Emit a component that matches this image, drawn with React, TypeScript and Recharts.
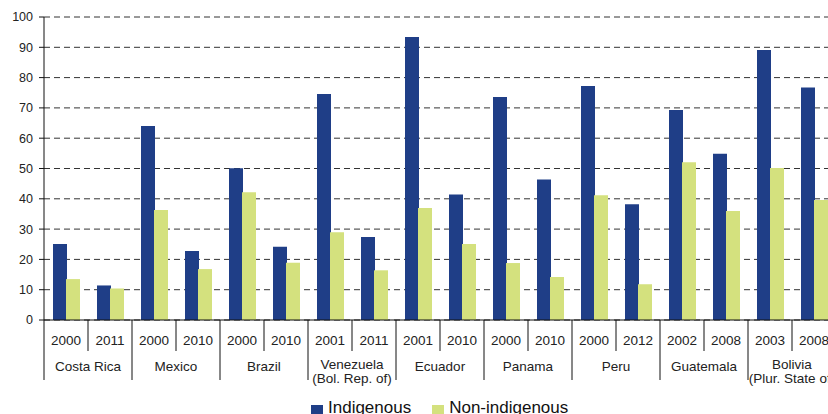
import { BarChart, Bar, XAxis, YAxis, CartesianGrid } from "recharts"

const countries = ["Costa Rica", "Mexico", "Brazil", "Venezuela", "Ecuador", "Panama", "Peru", "Guatemala", "Bolivia"]
const countrySubtitles = ["", "", "", "(Bol. Rep. of)", "", "", "", "", "(Plur. State of)"]
const years = [
  ["2000", "2011"],
  ["2000", "2010"],
  ["2000", "2010"],
  ["2001", "2011"],
  ["2001", "2010"],
  ["2000", "2010"],
  ["2000", "2012"],
  ["2002", "2008"],
  ["2003", "2008"],
]
const indigenous = [25.1, 11.4, 64, 22.8, 50.1, 24.2, 74.6, 27.4, 93.4, 41.4, 73.6, 46.4, 77.2, 38.2, 69.3, 54.9, 89.1, 76.7]
const nonIndigenous = [13.5, 10.4, 36.3, 16.8, 42.2, 18.9, 29, 16.4, 37, 25.1, 18.8, 14.2, 41.2, 11.8, 52.1, 36, 50.2, 39.6]
const yTicks = [0, 10, 20, 30, 40, 50, 60, 70, 80, 90, 100]

const SERIES = [
  { key: "indigenous", label: "Indigenous", color: "#1f3e87" },
  { key: "nonIndigenous", label: "Non-indigenous", color: "#d4e17e" },
]

const FONT = "'Liberation Sans', Arial, sans-serif"
const CHART_W = 850
const CHART_H = 414
const MARGIN = { top: 17, right: 14, left: 0, bottom: 0 }
const Y_W = 44
const X_H = 94
const PLOT_BOTTOM = CHART_H - X_H
const N_CATS = years.flat().length
const HALF = (CHART_W - MARGIN.right - Y_W) / N_CATS / 2

// flatten country/year pairs into one row per category
const rows: { key: string; country: number; pos: number; year: string }[] = []
years.forEach((ys, ci) => ys.forEach((y, yi) => rows.push({ key: `${countries[ci]} ${y}`, country: ci, pos: yi, year: y })))

const data = rows.map((r, i) => ({
  key: r.key,
  indigenous: indigenous[i],
  nonIndigenous: nonIndigenous[i],
}))

function CategoryTick(props: any) {
  const { x, index } = props
  const r = rows[index]
  if (!r) return null
  const isLast = r.pos === years[r.country].length - 1
  const sub = countrySubtitles[r.country]
  return (
    <g fontFamily={FONT} fill="#222">
      <text x={x} y={PLOT_BOTTOM + 25} textAnchor="middle" fontSize={13.5}>
        {r.year}
      </text>
      {index === 0 && <line x1={x - HALF} x2={x - HALF} y1={PLOT_BOTTOM} y2={PLOT_BOTTOM + 60} stroke="#111" />}
      <line x1={x + HALF} x2={x + HALF} y1={PLOT_BOTTOM} y2={PLOT_BOTTOM + (isLast ? 60 : 31)} stroke="#111" />
      {r.pos === 0 && (
        <text x={x + HALF} textAnchor="middle" fontSize={13.5}>
          <tspan x={x + HALF} y={PLOT_BOTTOM + (sub ? 49 : 51)}>
            {countries[r.country]}
          </tspan>
          {sub && (
            <tspan x={x + HALF} y={PLOT_BOTTOM + 63}>
              {sub}
            </tspan>
          )}
        </text>
      )}
    </g>
  )
}

export default function App() {
  return (
    <div style={{ position: "absolute", left: 0, top: 0, width: 828, height: 414, overflow: "hidden", background: "#fff" }}>
      <BarChart width={CHART_W} height={CHART_H} data={data} margin={MARGIN} barSize={14} barGap={-1}>
        <CartesianGrid vertical={false} stroke="#333" strokeDasharray="6 4" />
        <XAxis
          dataKey="key"
          height={X_H}
          interval={0}
          tickLine={false}
          axisLine={{ stroke: "#111" }}
          tick={<CategoryTick />}
        />
        <YAxis
          width={Y_W}
          domain={[0, 100]}
          ticks={yTicks}
          interval={0}
          tickSize={5}
          tickMargin={6}
          tickLine={{ stroke: "#111" }}
          axisLine={{ stroke: "#111" }}
          tick={{ fontSize: 12.5, fill: "#222", fontFamily: FONT }}
        />
        {SERIES.map((s) => (
          <Bar key={s.key} dataKey={s.key} fill={s.color} isAnimationActive={false} />
        ))}
      </BarChart>
      <div
        style={{
          position: "absolute",
          left: 311,
          top: 398,
          display: "flex",
          alignItems: "flex-start",
          fontFamily: FONT,
          fontSize: 17,
          lineHeight: "20px",
          color: "#111",
        }}
      >
        {SERIES.map((s) => (
          <div key={s.key} style={{ display: "flex", alignItems: "flex-start", marginRight: 21 }}>
            <div style={{ width: 12, height: 12, marginTop: 7, marginRight: 5, background: s.color }} />
            <span>{s.label}</span>
          </div>
        ))}
      </div>
    </div>
  )
}
